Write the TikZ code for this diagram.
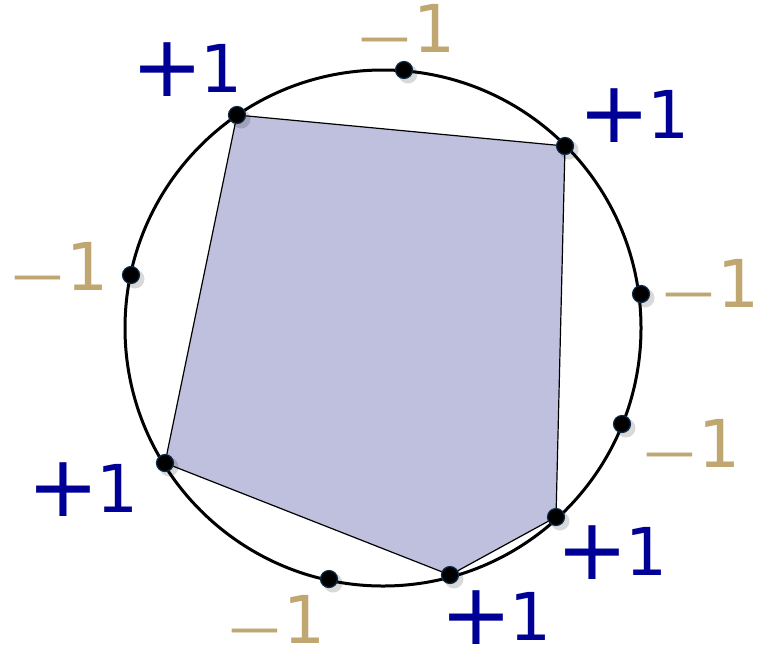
\documentclass[tikz,border=0pt]{standalone}
\usepackage{fontspec}
\usepackage{graphicx}
\setmainfont{DejaVu Sans}
\definecolor{plusblue}{RGB}{0,0,150}
\definecolor{minustan}{RGB}{192,166,112}
\definecolor{polyfill}{RGB}{190,192,222}
\definecolor{dotedge}{RGB}{15,45,75}
\newcommand\plsgn{\raisebox{-4pt}[\height][0pt]{\scalebox{1.3}{+}}\kern-3pt}
\newcommand\mnsgn{\raisebox{-2pt}[\height][0pt]{\scalebox{1.1}[0.7]{−}}\kern-1pt}
\tikzset{
  dotpt/.style={circle,fill=black,draw=dotedge,line width=1.2pt,inner sep=0pt,minimum size=17pt},
  shadowpt/.style={circle,fill=black,opacity=0.15,inner sep=0pt,minimum size=19pt},
  pluslab/.style={text=plusblue,font=\fontsize{66}{68}\selectfont,inner sep=0pt,anchor=base},
  minuslab/.style={text=minustan,font=\fontsize{66}{68}\selectfont,inner sep=0pt,anchor=base},
}
\begin{document}
\begin{tikzpicture}[x=1pt,y=-1pt]
\useasboundingbox (0,0) rectangle (759,654);
\coordinate (c) at (383,328);
% polygon
\coordinate (p1) at (237,115);
\coordinate (p2) at (565,146);
\coordinate (p3) at (556,517);
\coordinate (p4) at (450,575);
\coordinate (p5) at (165,463);
\filldraw[fill=polyfill,draw=black,line width=1.2pt] (p1) -- (p2) -- (p3) -- (p4) -- (p5) -- cycle;
\draw[line width=3pt] (c) circle[radius=258];
% shadows
\foreach \x/\y in {404/70,237/115,565/146,131/275,641/294,622/424,165/463,556/517,450/575,329/579}
  \node[shadowpt] at (\x+4,\y+4) {};
% dots
\node[dotpt] (d1) at (404,70) {};
\node[dotpt] (d2) at (237,115) {};
\node[dotpt] (d3) at (565,146) {};
\node[dotpt] (d4) at (131,275) {};
\node[dotpt] (d5) at (641,294) {};
\node[dotpt] (d6) at (622,424) {};
\node[dotpt] (d7) at (165,463) {};
\node[dotpt] (d8) at (556,517) {};
\node[dotpt] (d9) at (450,575) {};
\node[dotpt] (d10) at (329,579) {};
% labels (placed by baseline)
\node[minuslab] (l1) at (405,52) {\mnsgn 1};
\node[pluslab] (l2) at (187,92) {\plsgn 1};
\node[pluslab] (l3) at (634,138) {\plsgn 1};
\node[minuslab] (l4) at (58,290) {\mnsgn 1};
\node[minuslab] (l5) at (709,307) {\mnsgn 1};
\node[minuslab] (l6) at (690,467) {\mnsgn 1};
\node[pluslab] (l7) at (83,512) {\plsgn 1};
\node[pluslab] (l8) at (612,575) {\plsgn 1};
\node[pluslab] (l9) at (496,640) {\plsgn 1};
\node[minuslab] (l10) at (275,643) {\mnsgn 1};
\end{tikzpicture}
\end{document}
